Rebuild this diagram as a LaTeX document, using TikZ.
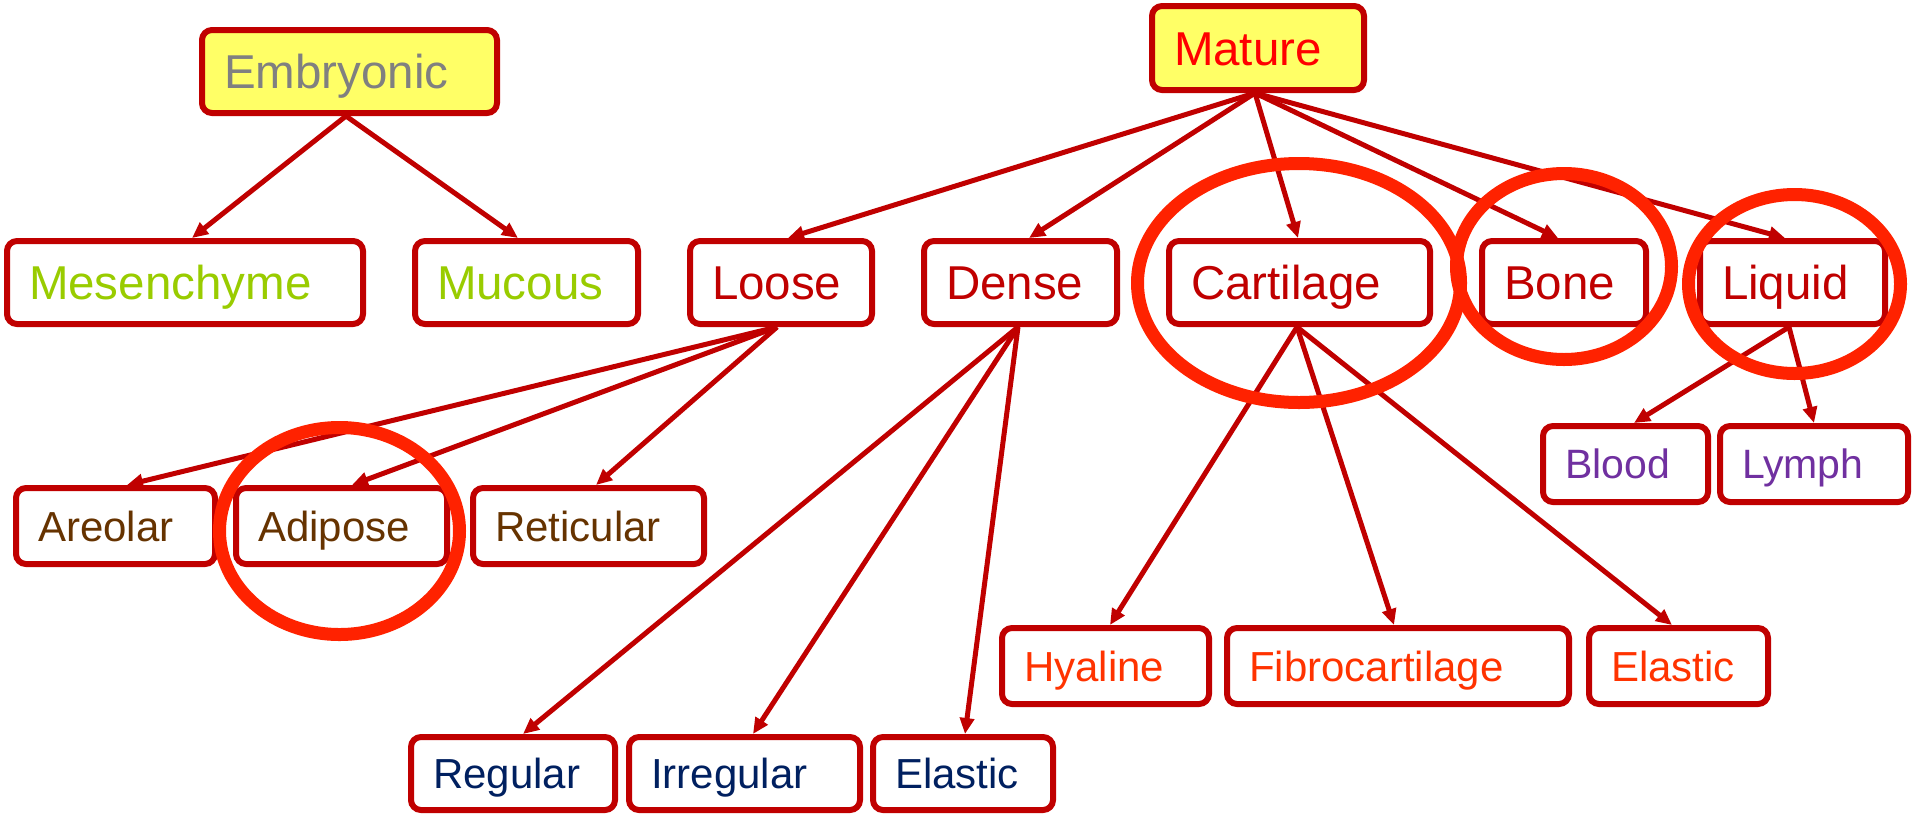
\documentclass[tikz,border=0pt]{standalone}
\usepackage{fontspec}
\setmainfont{Liberation Sans}
\usetikzlibrary{arrows.meta}
\definecolor{boxred}{HTML}{C00000}
\definecolor{yfill}{HTML}{FFFF66}
\definecolor{embgray}{HTML}{808080}
\definecolor{matred}{HTML}{FF0000}
\definecolor{lgreen}{HTML}{99CC00}
\definecolor{brownc}{HTML}{663300}
\definecolor{navyc}{HTML}{002060}
\definecolor{orangec}{HTML}{FF3300}
\definecolor{purplec}{HTML}{7030A0}
\definecolor{ellred}{HTML}{FF2200}
\tikzset{
  bx/.style={draw=boxred, line width=6pt, rounded corners=10pt, fill=white,
    inner xsep=22pt, inner ysep=0pt, align=left},
  big/.style={font=\fontsize{47.5}{50}\selectfont, text height=34pt, text depth=0pt, minimum height=83pt},
  small/.style={font=\fontsize{42}{45}\selectfont, text height=30pt, text depth=0pt, minimum height=76pt},
  smaller/.style={font=\fontsize{41}{44}\selectfont, text height=29.5pt, text depth=0pt, minimum height=76pt},
  conn/.style={draw=boxred, line width=5pt, -{Triangle[length=16pt,width=14pt]}},
  hl/.style={draw=ellred, line width=13pt},
}
\begin{document}
\begin{tikzpicture}[x=1pt,y=-1pt]
\useasboundingbox (0,0) rectangle (1913,815);
% top level
\node[bx,big,fill=yfill,text=embgray,text width=251pt,minimum height=83pt] (emb) at (349.5,71.5) {Embryonic};
\node[bx,big,fill=yfill,text=matred,text width=168pt,minimum height=84pt] (mat) at (1258,48) {Mature};
% second level
\node[bx,big,text=lgreen,text width=312pt] (mes) at (185,282.5) {Mesenchyme};
\node[bx,big,text=lgreen,text width=179pt] (muc) at (526.5,282.5) {Mucous};
\node[bx,big,text=boxred,text width=138pt] (loose) at (781,282.5) {Loose};
\node[bx,big,text=boxred,text width=149pt] (dense) at (1020.5,282.5) {Dense};
\node[bx,big,text=boxred,text width=217pt] (cart) at (1299.5,282.5) {Cartilage};
\node[bx,big,text=boxred,text width=120pt] (bone) at (1564,282.5) {Bone};
\node[bx,big,text=boxred,text width=141pt] (liquid) at (1792.5,282.5) {Liquid};
% loose children
\node[bx,small,text=brownc,text width=155pt] (areolar) at (115.5,526) {Areolar};
\node[bx,small,text=brownc,text width=167pt] (adipose) at (341.5,526) {Adipose};
\node[bx,small,text=brownc,text width=187pt] (reticular) at (588.5,526) {Reticular};
% dense children
\node[bx,small,text=navyc,text width=160pt,minimum height=73pt] (regular) at (513,773.5) {Regular};
\node[bx,small,text=navyc,text width=187pt,minimum height=73pt] (irregular) at (744.5,773.5) {Irregular};
\node[bx,small,text=navyc,text width=136pt,minimum height=73pt] (delastic) at (963,773.5) {Elastic};
% cartilage children
\node[bx,small,text=orangec,text width=163pt] (hyaline) at (1105.5,666) {Hyaline};
\node[bx,small,text=orangec,text width=298pt] (fibro) at (1398,666) {Fibrocartilage};
\node[bx,small,text=orangec,text width=135pt] (celastic) at (1678.5,666) {Elastic};
% liquid children
\node[bx,smaller,text=purplec,text width=121pt] (blood) at (1625.5,464) {Blood};
\node[bx,smaller,text=purplec,text width=144pt] (lymph) at (1814,464) {Lymph};
% connectors
\draw[conn] ([xshift=-3.5pt]emb.south) -- ([xshift=7pt]mes.north);
\draw[conn] ([xshift=-3.5pt]emb.south) -- ([xshift=-8.5pt]muc.north);
\draw[conn] ([xshift=-3pt]mat.south) -- ([xshift=7pt]loose.north);
\draw[conn] ([xshift=-3pt]mat.south) -- ([xshift=8.5pt]dense.north);
\draw[conn] ([xshift=-3pt]mat.south) -- ([xshift=-1.5pt]cart.north);
\draw[conn] ([xshift=-3pt]mat.south) -- ([xshift=-6pt]bone.north);
\draw[conn] ([xshift=-3pt]mat.south) -- ([xshift=-7.5pt]liquid.north);
\draw[conn] ([xshift=-4pt]loose.south) -- ([xshift=11.5pt]areolar.north);
\draw[conn] ([xshift=-4pt]loose.south) -- ([xshift=10.5pt]adipose.north);
\draw[conn] ([xshift=-4pt]loose.south) -- ([xshift=7.5pt]reticular.north);
\draw[conn] ([xshift=-2.5pt]dense.south) -- ([xshift=10pt]regular.north);
\draw[conn] ([xshift=-2.5pt]dense.south) -- ([xshift=8.5pt]irregular.north);
\draw[conn] ([xshift=-2.5pt]dense.south) -- ([xshift=2pt]delastic.north);
\draw[conn] ([xshift=-2.5pt]cart.south) -- ([xshift=4.5pt]hyaline.north);
\draw[conn] ([xshift=-2.5pt]cart.south) -- ([xshift=-4pt]fibro.north);
\draw[conn] ([xshift=-2.5pt]cart.south) -- ([xshift=-6.5pt]celastic.north);
\draw[conn] ([xshift=-3.5pt]liquid.south) -- ([xshift=8.5pt]blood.north);
\draw[conn] ([xshift=-3.5pt]liquid.south) -- (lymph.north);
% highlight ellipses
\draw[hl] (1299,283) ellipse [x radius=161.5, y radius=119.5];
\draw[hl] (1564,266.5) ellipse [x radius=107.5, y radius=93];
\draw[hl] (1794.5,284) ellipse [x radius=106, y radius=89.5];
\draw[hl] (339.5,531) ellipse [x radius=120, y radius=103.5];
\end{tikzpicture}
\end{document}
